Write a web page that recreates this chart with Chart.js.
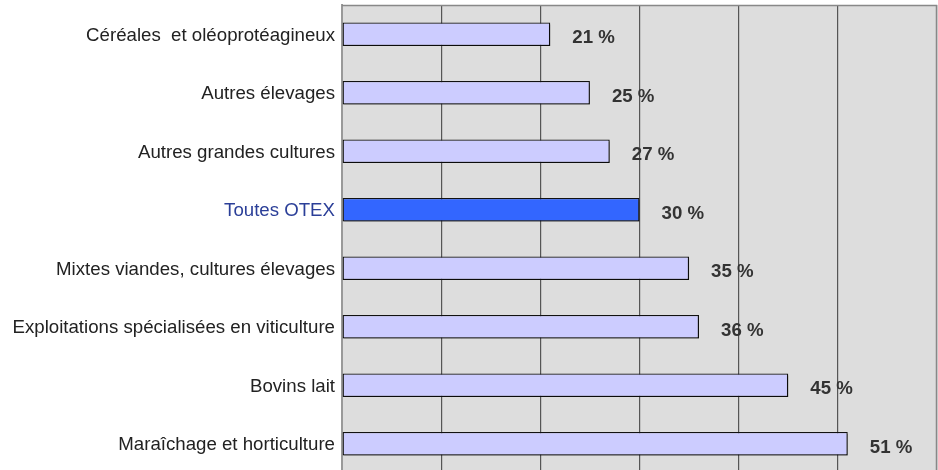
<!DOCTYPE html>
<html>
<head>
<meta charset="utf-8">
<script src="https://cdn.jsdelivr.net/npm/chart.js@4.4.0/dist/chart.umd.min.js"></script>
<style>
  html, body { margin: 0; padding: 0; background: #fff; overflow: hidden; }
  #wrap { position: relative; width: 938px; height: 473px; }
</style>
</head>
<body>
<div id="wrap"><canvas id="chart"></canvas></div>
<script>
var categories = [
  "Céréales  et oléoprotéagineux",
  "Autres élevages",
  "Autres grandes cultures",
  "Toutes OTEX",
  "Mixtes viandes, cultures élevages",
  "Exploitations spécialisées en viticulture",
  "Bovins lait",
  "Maraîchage et horticulture"
];
var values = [21, 25, 27, 30, 35, 36, 45, 51];
var highlight = "Toutes OTEX";

var barColors = categories.map(c => c === highlight ? "#3366ff" : "#ccccff");
var labelColors = categories.map(c => c === highlight ? "#2b3f98" : "#222222");
var fontFamily = "'Liberation Sans', Arial, sans-serif";

// fond gris + cadre de la zone de tracé
var plotBg = {
  id: "plotBg",
  beforeDraw(chart) {
    const a = chart.chartArea, ctx = chart.ctx;
    ctx.save();
    ctx.fillStyle = "#dddddd";
    ctx.fillRect(a.left, a.top, a.right - a.left, a.bottom - a.top);
    ctx.restore();
  },
  afterDraw(chart) {
    const a = chart.chartArea, ctx = chart.ctx;
    ctx.save();
    ctx.strokeStyle = "#888888";
    ctx.lineWidth = 1.5;
    ctx.beginPath();
    ctx.moveTo(a.left, a.top + 0.5);
    ctx.lineTo(a.right - 0.5, a.top + 0.5);
    ctx.lineTo(a.right - 0.5, a.bottom);
    ctx.stroke();
    ctx.restore();
  }
};

// ombre sous les barres
var barShadow = {
  id: "barShadow",
  beforeDatasetsDraw(chart) {
    const ctx = chart.ctx;
    ctx.save();
    ctx.shadowColor = "rgba(0,0,0,0.35)";
    ctx.shadowOffsetX = 1;
    ctx.shadowOffsetY = 2;
    ctx.shadowBlur = 0;
  },
  afterDatasetsDraw(chart) {
    chart.ctx.restore();
  }
};

// étiquettes "xx %"
var valueLabels = {
  id: "valueLabels",
  afterDatasetsDraw(chart) {
    const ctx = chart.ctx;
    const meta = chart.getDatasetMeta(0);
    ctx.save();
    ctx.font = "bold 18.67px " + fontFamily;
    ctx.fillStyle = "#333333";
    ctx.textAlign = "left";
    ctx.textBaseline = "middle";
    meta.data.forEach((bar, i) => {
      ctx.fillText(values[i] + " %", bar.x + 22, bar.y + 4);
    });
    ctx.restore();
  }
};

new Chart(document.getElementById("chart"), {
  type: "bar",
  data: {
    labels: categories,
    datasets: [{
      data: values,
      backgroundColor: barColors,
      borderColor: "#111111",
      borderWidth: 1.3,
      borderSkipped: false,
      barPercentage: 0.4,
      categoryPercentage: 1
    }]
  },
  options: {
    indexAxis: "y",
    responsive: true,
    maintainAspectRatio: false,
    animation: false,
    layout: { padding: { top: 5, right: 1, left: 0, bottom: 0 } },
    plugins: { legend: { display: false }, tooltip: { enabled: false } },
    scales: {
      x: {
        min: 0,
        max: 60,
        ticks: { display: false, stepSize: 10 },
        grid: { color: "#555555", lineWidth: 1.2, drawTicks: false },
        border: { display: false }
      },
      y: {
        afterFit(scale) {
          scale.width = 342;
          scale.paddingTop = 0;
          scale.paddingBottom = 0;
        },
        grid: { display: false, drawTicks: false },
        border: { display: true, color: "#999999", width: 2 },
        ticks: {
          padding: 7,
          labelOffset: 1.5,
          color: labelColors,
          font: { family: fontFamily, size: 18.67 }
        }
      }
    }
  },
  plugins: [plotBg, barShadow, valueLabels]
});
</script>
</body>
</html>
